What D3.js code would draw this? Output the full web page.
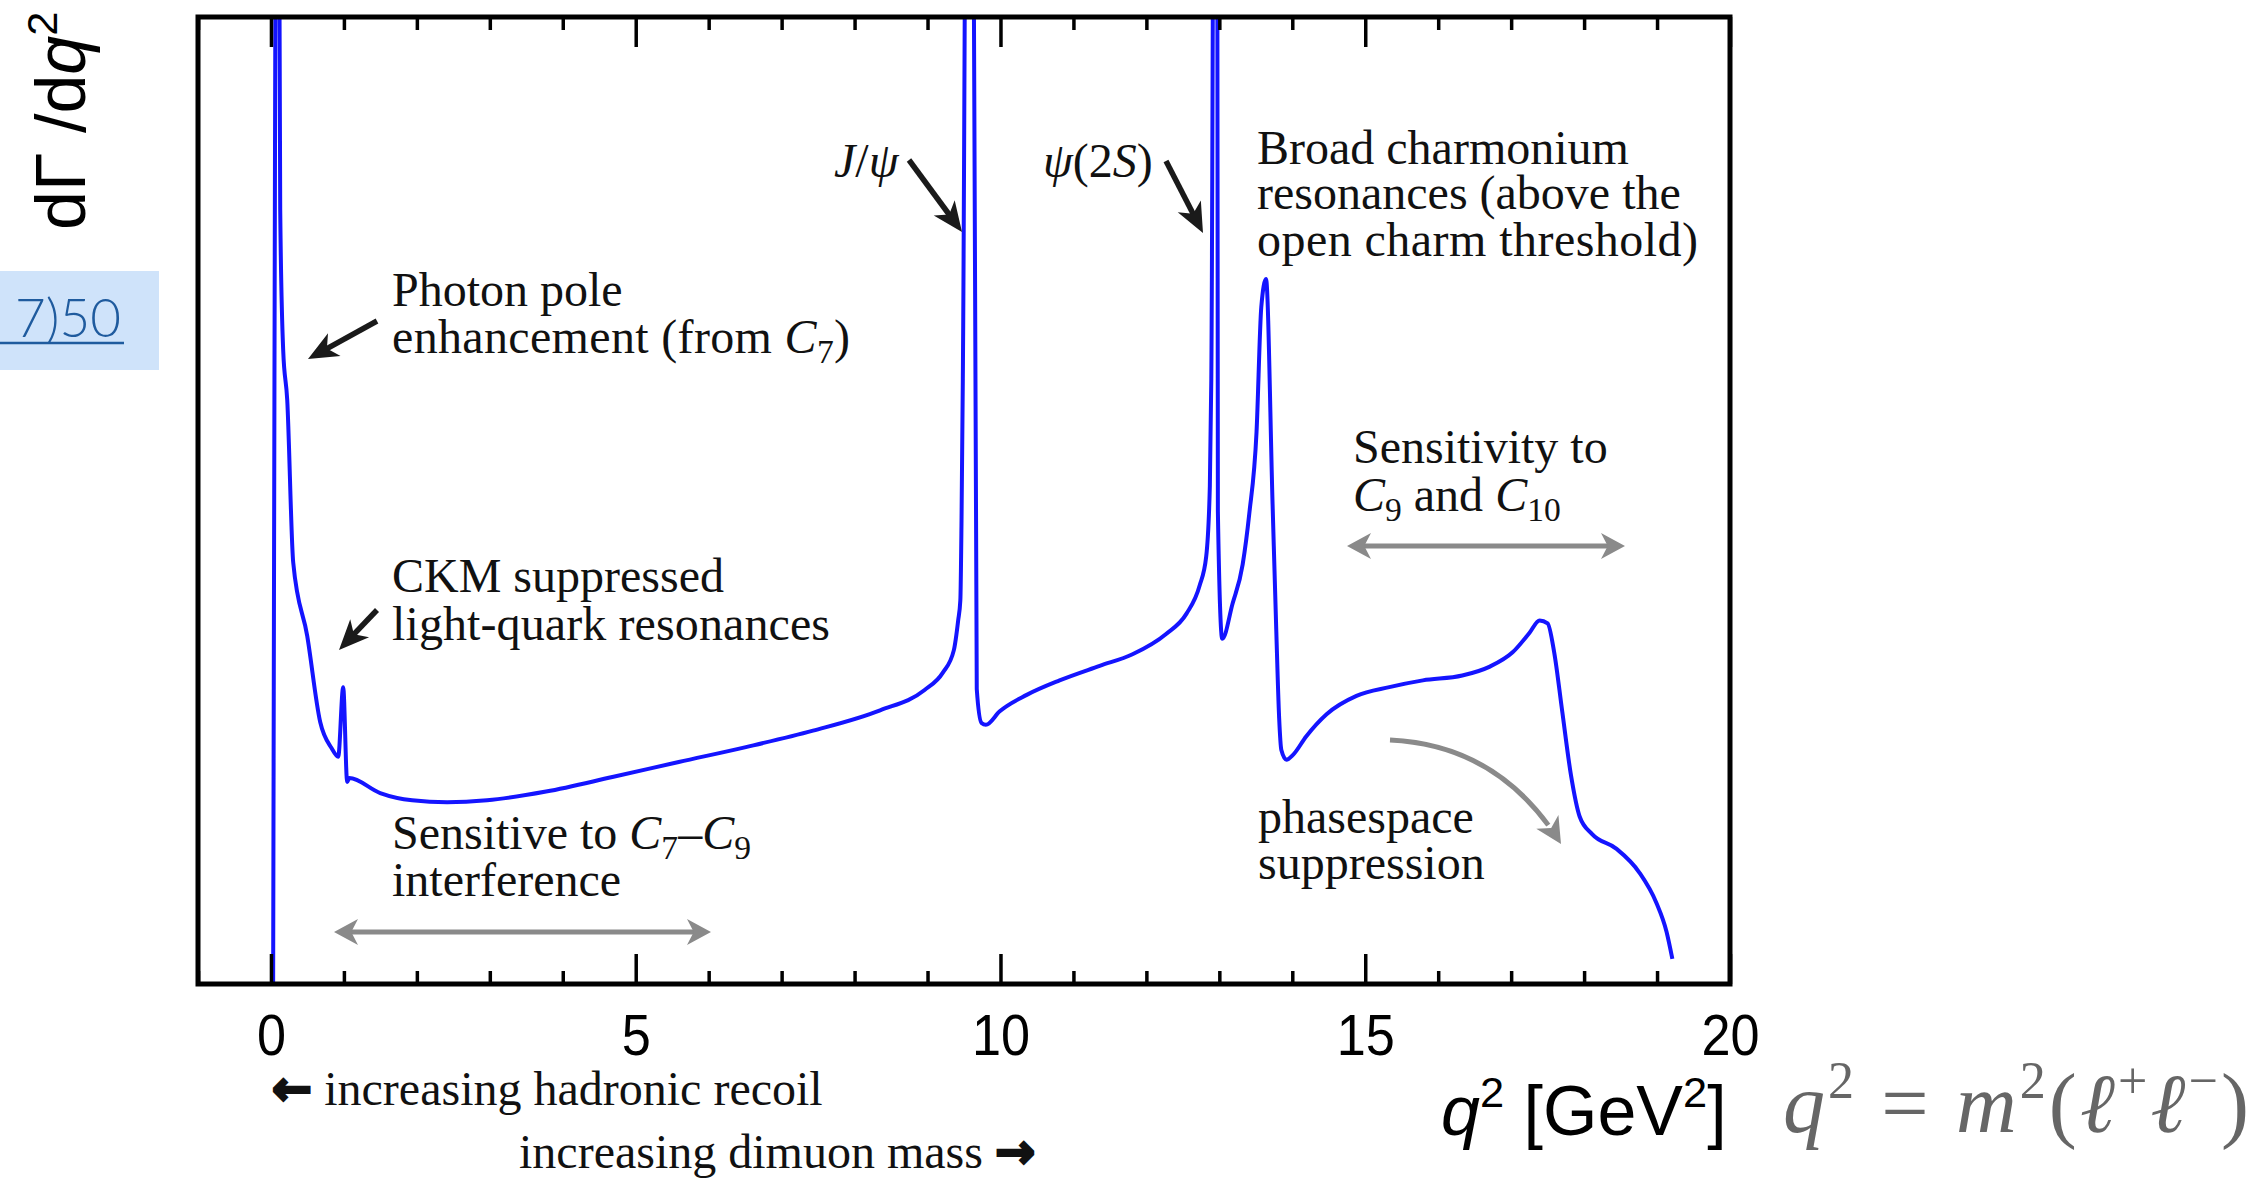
<!DOCTYPE html>
<html>
<head>
<meta charset="utf-8">
<script src="https://cdn.jsdelivr.net/npm/d3@7"></script>
<style>
  html, body { margin: 0; padding: 0; background: #fff; }
  svg { display: block; }
  text { white-space: pre; }
</style>
</head>
<body>
<svg id="chart" width="2265" height="1178"></svg>
<script>
// Dilepton invariant-mass spectrum q^2 (GeV^2) and differential rate dΓ/dq² (arbitrary units)
const q2 = [
  0.03, 0.093, 0.127, 0.168, 0.223, 0.305, 0.497, 0.675, 0.83, 0.922,
  0.99, 1.045, 1.073, 1.497, 1.936, 2.415, 2.963, 3.771, 4.68, 5.59,
  6.51, 7.43, 8.35, 8.96, 9.21, 9.36, 9.42, 9.45, 9.466, 9.484,
  9.58, 9.675, 9.74, 9.80, 9.99, 10.36, 10.81, 11.36, 11.81, 12.27,
  12.55, 12.73, 12.82, 12.87, 12.89, 12.96, 12.98, 13.04, 13.18, 13.32,
  13.41, 13.51, 13.575, 13.64, 13.73, 13.78, 13.82, 13.85, 13.92, 14.01,
  14.19, 14.47, 14.88, 15.33, 15.79, 16.33, 16.70, 17.02, 17.25, 17.39,
  17.50, 17.59, 17.70, 17.82, 17.94, 18.11, 18.44, 18.76, 18.99, 19.13,
  19.21
];
const rate = [
  0, 150, 80.1, 65.5, 60.4, 43.6, 36.0, 27.1, 24.4, 23.5,
  30.7, 20.9, 21.3, 19.75, 19.0, 18.8, 19.0, 19.9, 21.4, 22.96,
  24.5, 26.2, 28.3, 30.4, 32.2, 34.5, 37.6, 39.7, 47.9, 62.6,
  200, 30.5, 27.0, 26.8, 28.2, 29.9, 31.4, 32.9, 34.1, 36.2,
  38.3, 41.2, 44.2, 51.5, 62.6, 200, 48.9, 35.7, 39.3, 43.4,
  48.6, 57.1, 70.0, 72.9, 49.6, 36.7, 27.5, 24.2, 23.2, 23.7,
  25.6, 27.9, 29.8, 30.7, 31.4, 31.9, 32.8, 34.3, 36.3, 37.6,
  37.3, 34.3, 28.2, 21.6, 17.3, 15.5, 14.0, 11.5, 8.4, 5.4,
  2.6
];

// Axis ticks
const majorTicks = [0, 5, 10, 15, 20];
const tickLabels = ["0", "5", "10", "15", "20"];
const minorTicks = [-1, 1, 2, 3, 4, 6, 7, 8, 9, 11, 12, 13, 14, 16, 17, 18, 19];

// Plot frame
const frame = { left: 198, right: 1730, top: 17, bottom: 984 };

const svg = d3.select("#chart");
svg.append("rect").attr("width", 2265).attr("height", 1178).attr("fill", "#fff");

const x = d3.scaleLinear().domain([-1, 20]).range([frame.left, frame.right]);
const y = d3.scaleLinear().domain([0, 100]).range([frame.bottom, frame.top]);

const SERIF = "'Liberation Serif', 'Times New Roman', serif";
const SANS = "'Liberation Sans', Arial, Helvetica, sans-serif";

// ---- clip region for the spectrum ----
svg.append("defs").append("clipPath").attr("id", "plot-clip")
  .append("rect")
  .attr("x", frame.left).attr("y", frame.top)
  .attr("width", frame.right - frame.left).attr("height", frame.bottom - frame.top);

// ---- spectrum ----
const points = q2.map((v, i) => [v, rate[i]]);
const line = d3.line()
  .x(d => x(d[0]))
  .y(d => y(d[1]))
  .curve(d3.curveMonotoneX);

svg.append("path")
  .datum(points)
  .attr("clip-path", "url(#plot-clip)")
  .attr("d", line)
  .attr("fill", "none")
  .attr("stroke", "#1414ff")
  .attr("stroke-width", 4)
  .attr("stroke-linejoin", "round");

// ---- axes (ticks point inward on top and bottom) ----
function styleAxis(g) {
  g.select(".domain").remove();
  g.selectAll(".tick line").attr("stroke", "#000").attr("stroke-width", 3.5);
}

const bottomMajor = svg.append("g")
  .attr("transform", `translate(0,${frame.bottom})`)
  .call(d3.axisBottom(x).tickValues(majorTicks).tickSize(-30).tickPadding(30)
    .tickFormat((d, i) => tickLabels[i]));
styleAxis(bottomMajor);
bottomMajor.selectAll(".tick text")
  .attr("font-family", SANS)
  .attr("font-size", 58)
  .attr("fill", "#000")
  .attr("transform", "scale(0.9,1)");

const bottomMinor = svg.append("g")
  .attr("transform", `translate(0,${frame.bottom})`)
  .call(d3.axisBottom(x).tickValues(minorTicks).tickSize(-13).tickFormat(""));
styleAxis(bottomMinor);

const topMajor = svg.append("g")
  .attr("transform", `translate(0,${frame.top})`)
  .call(d3.axisTop(x).tickValues(majorTicks).tickSize(-30).tickFormat(""));
styleAxis(topMajor);

const topMinor = svg.append("g")
  .attr("transform", `translate(0,${frame.top})`)
  .call(d3.axisTop(x).tickValues(minorTicks).tickSize(-13).tickFormat(""));
styleAxis(topMinor);

// frame box
svg.append("rect")
  .attr("x", frame.left).attr("y", frame.top)
  .attr("width", frame.right - frame.left).attr("height", frame.bottom - frame.top)
  .attr("fill", "none").attr("stroke", "#000").attr("stroke-width", 5);

// ---- rich text helper: segments are [string, style] with style made of
// "i" (italic), "b" (subscript), "p" (superscript), "f" (alternate font) ----
function rich(parent, px, py, segs, o) {
  const fs = o.size;
  const t = parent.append("text")
    .attr("x", px).attr("y", py)
    .attr("font-family", o.family)
    .attr("font-size", fs)
    .attr("fill", o.fill || "#111");
  if (o.anchor) t.attr("text-anchor", o.anchor);
  if (o.transform) t.attr("transform", o.transform);
  let shift = 0;
  segs.forEach(([s, k]) => {
    k = k || "";
    const sp = t.append("tspan").text(s);
    let target = 0;
    if (k.includes("i")) sp.attr("font-style", "italic");
    if (k.includes("b")) { sp.attr("font-size", fs * 0.7); target = fs * 0.2; }
    if (k.includes("p")) { sp.attr("font-size", fs * 0.62); target = -fs * 0.4; }
    if (k.includes("f")) sp.attr("font-family", o.alt);
    if (target !== shift) { sp.attr("dy", target - shift); shift = target; }
  });
  if (o.width) t.attr("textLength", o.width).attr("lengthAdjust", "spacing");
  return t;
}

// ---- arrows ----
function arrowHead(g, tx, ty, ux, uy, len, half, color) {
  const nx = -uy, ny = ux;
  const bx = tx - ux * len, by = ty - uy * len;
  const mx = tx - ux * len * 0.72, my = ty - uy * len * 0.72;
  g.append("path")
    .attr("d", `M${tx},${ty} L${bx + nx * half},${by + ny * half} L${mx},${my} L${bx - nx * half},${by - ny * half} Z`)
    .attr("fill", color);
}

function straightArrow(g, x1, y1, x2, y2, o) {
  const dx = x2 - x1, dy = y2 - y1, L = Math.hypot(dx, dy);
  const ux = dx / L, uy = dy / L;
  const s0 = o.both ? o.len * 0.6 : 0;
  g.append("line")
    .attr("x1", x1 + ux * s0).attr("y1", y1 + uy * s0)
    .attr("x2", x2 - ux * o.len * 0.6).attr("y2", y2 - uy * o.len * 0.6)
    .attr("stroke", o.color).attr("stroke-width", o.width);
  arrowHead(g, x2, y2, ux, uy, o.len, o.half, o.color);
  if (o.both) arrowHead(g, x1, y1, -ux, -uy, o.len, o.half, o.color);
}

const ann = svg.append("g");
const BLACK = "#1a1a1a", GREY = "#8a8a8a";
const blackArrow = { color: BLACK, width: 5.5, len: 30, half: 13 };
const greyArrow = { color: GREY, width: 5, len: 24, half: 13, both: true };

// annotation texts
const T = { family: SERIF, size: 48, fill: "#111" };
rich(ann, 392, 306, [["Photon pole"]], T);
rich(ann, 392, 353, [["enhancement (from "], ["C", "i"], ["7", "b"], [")"]], { ...T, width: 458 });
straightArrow(ann, 377, 321, 308, 359, blackArrow);

rich(ann, 392, 592, [["CKM suppressed"]], T);
rich(ann, 392, 640, [["light-quark resonances"]], { ...T, width: 438 });
straightArrow(ann, 377, 610, 339, 650, blackArrow);

rich(ann, 392, 849, [["Sensitive to "], ["C", "i"], ["7", "b"], ["–"], ["C", "i"], ["9", "b"]], T);
rich(ann, 392, 896, [["interference"]], T);
straightArrow(ann, 334, 932, 711, 932, greyArrow);

rich(ann, 834, 177, [["J", "i"], ["/"], ["ψ", "i"]], T);
straightArrow(ann, 909, 160, 962, 232, blackArrow);

rich(ann, 1043, 177, [["ψ", "i"], ["(2"], ["S", "i"], [")"]], T);
straightArrow(ann, 1166, 161, 1203, 233, blackArrow);

rich(ann, 1257, 164, [["Broad charmonium"]], T);
rich(ann, 1257, 209, [["resonances (above the"]], T);
rich(ann, 1257, 256, [["open charm threshold)"]], { ...T, width: 441 });

rich(ann, 1353, 463, [["Sensitivity to"]], T);
rich(ann, 1353, 511, [["C", "i"], ["9", "b"], [" and "], ["C", "i"], ["10", "b"]], T);
straightArrow(ann, 1347, 546, 1625, 546, greyArrow);

rich(ann, 1258, 833, [["phasespace"]], T);
rich(ann, 1258, 879, [["suppression"]], T);

// curved "phasespace suppression" arrow (quadratic Bézier)
(function () {
  const P0 = [1390, 740], P1 = [1500, 745], P2 = [1561, 844];
  const t = 0.9;
  const lerp = (a, b, s) => [a[0] + (b[0] - a[0]) * s, a[1] + (b[1] - a[1]) * s];
  const Q1 = lerp(P0, P1, t), Q2 = lerp(P1, P2, t), E = lerp(Q1, Q2, t);
  ann.append("path")
    .attr("d", `M${P0} Q${Q1} ${E}`)
    .attr("fill", "none").attr("stroke", GREY).attr("stroke-width", 5);
  const dx = P2[0] - P1[0], dy = P2[1] - P1[1], L = Math.hypot(dx, dy);
  arrowHead(ann, P2[0], P2[1], dx / L, dy / L, 26, 13, GREY);
})();

// ---- axis titles ----
rich(svg, 85, 230, [["dΓ /d"], ["q", "i"], ["2", "p"]],
  { family: SANS, size: 70, fill: "#000", transform: "rotate(-90,85,230)" });

rich(svg, 1441, 1135, [["q", "i"], ["2", "p"], [" [GeV"], ["2", "p"], ["]"]],
  { family: SANS, size: 70, fill: "#000" });

rich(svg, 1783, 1132, [["q", "i"], ["2", "p"], [" = "], ["m", "i"], ["2", "p"], ["("], ["ℓ", "i"], ["+", "p"], ["ℓ", "i"], ["−", "p"], [")"]],
  { family: SERIF, size: 84, fill: "#666", width: 466 });

// kinematic direction notes under the axis
rich(svg, 272, 1105, [["←", "f"], [" increasing hadronic recoil"]],
  { family: SERIF, alt: "'DejaVu Sans', sans-serif", size: 48, fill: "#111" })
  .select("tspan").attr("font-weight", "bold").attr("stroke", "#111").attr("stroke-width", 2.5);
rich(svg, 519, 1168, [["increasing dimuon mass "], ["→", "f"]],
  { family: SERIF, alt: "'DejaVu Sans', sans-serif", size: 48, fill: "#111" })
  .selectAll("tspan").filter((d, i) => i === 1)
  .attr("font-weight", "bold").attr("stroke", "#111").attr("stroke-width", 2.5);

// ---- highlighted page reference at the left margin ----
svg.append("rect").attr("x", 0).attr("y", 271).attr("width", 159).attr("height", 99)
  .attr("fill", "#cfe3fa");
svg.append("text").attr("x", 15).attr("y", 337)
  .attr("font-family", "Lato, 'Open Sans', sans-serif").attr("font-weight", 300)
  .attr("font-size", 53).attr("fill", "#1f5b9e").text("7)50");
svg.append("line").attr("x1", 0).attr("x2", 124).attr("y1", 343).attr("y2", 343)
  .attr("stroke", "#1f5b9e").attr("stroke-width", 2.5);
</script>
</body>
</html>
